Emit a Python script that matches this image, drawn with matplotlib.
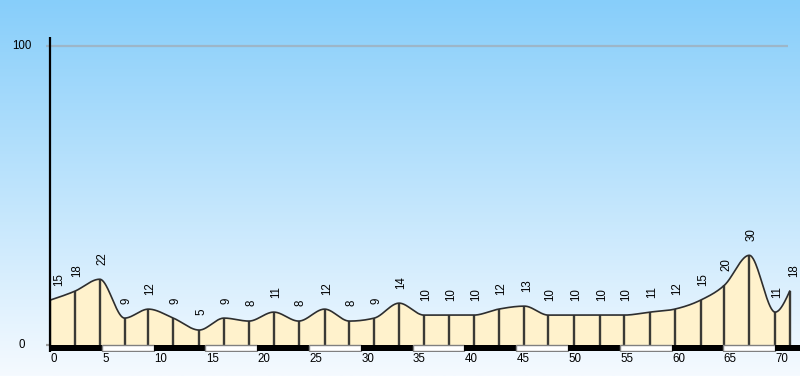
import numpy as np
import matplotlib
matplotlib.use("Agg")
import matplotlib.pyplot as plt
from matplotlib.patches import Rectangle
from matplotlib.colors import LinearSegmentedColormap

plt.rcParams['font.family'] = ['Liberation Sans', 'DejaVu Sans']

# ---- data ----
distance = [0.0, 2.4, 4.8, 7.2, 9.5, 11.9, 14.4, 16.8, 19.2, 21.6, 24.0, 26.5,
            28.9, 31.3, 33.7, 36.1, 38.5, 40.9, 43.3, 45.8, 48.1, 50.6, 53.1,
            55.4, 57.9, 60.3, 62.8, 65.1, 67.5, 70.0, 71.4]
values = [15, 18, 22, 9, 12, 9, 5, 9, 8, 11, 8, 12, 8, 9, 14, 10, 10, 10, 12,
          13, 10, 10, 10, 10, 11, 12, 15, 20, 30, 11, 18]
x_ticks = [0, 5, 10, 15, 20, 25, 30, 35, 40, 45, 50, 55, 60, 65, 70]
y_ticks = [0, 100]


def monotone_curve(x, y, n=40):
    """Monotone cubic (d3 curveMonotoneX style) rendering of the profile."""
    x = np.asarray(x, float)
    y = np.asarray(y, float)
    h = np.diff(x)
    s = np.diff(y) / h
    m = len(x)
    t = np.zeros(m)
    for i in range(1, m - 1):
        h0, h1 = h[i - 1], h[i]
        s0, s1 = s[i - 1], s[i]
        p = (s0 * h1 + s1 * h0) / (h0 + h1)
        t[i] = (np.sign(s0) + np.sign(s1)) * min(abs(s0), abs(s1), 0.5 * abs(p))
    t[0] = (3 * s[0] - t[1]) / 2
    t[-1] = (3 * s[-1] - t[-2]) / 2
    xs, ys = [], []
    for i in range(m - 1):
        u = np.linspace(0, 1, n, endpoint=(i == m - 2))
        hh = h[i]
        h00 = 2 * u**3 - 3 * u**2 + 1
        h10 = u**3 - 2 * u**2 + u
        h01 = -2 * u**3 + 3 * u**2
        h11 = u**3 - u**2
        xs.append(x[i] + u * hh)
        ys.append(h00 * y[i] + h10 * hh * t[i] + h01 * y[i + 1] + h11 * hh * t[i + 1])
    return np.concatenate(xs), np.concatenate(ys)


W, H = 800, 376
fig = plt.figure(figsize=(W / 100, H / 100), dpi=100)

# gradient background
bg = fig.add_axes([0, 0, 1, 1], zorder=0)
cmap = LinearSegmentedColormap.from_list('bg', ['#87CEFA', '#F5FAFF'])
grad = np.linspace(0, 1, 256).reshape(-1, 1)
bg.imshow(grad, aspect='auto', cmap=cmap, extent=[0, 1, 0, 1], origin='upper')
bg.set_axis_off()

px_per_x = 10.36
px_per_y = 2.99
left_px = 50
y0_px = H - 345  # pixel (from bottom) of value 0
ymin = -7 / px_per_y
ymax = (H - 37 - y0_px) / px_per_y
xmax = (W - left_px) / px_per_x
bottom_px = y0_px + ymin * px_per_y
ax = fig.add_axes([left_px / W, bottom_px / H, (W - left_px) / W,
                   (ymax - ymin) * px_per_y / H], zorder=1)
ax.set_xlim(0, xmax)
ax.set_ylim(ymin, ymax)
ax.patch.set_alpha(0)
for sp in ax.spines.values():
    sp.set_visible(False)
ax.set_xticks([])
ax.set_yticks([])

# grid line at 100 and small tick at 0
ax.hlines(100, -0.4, 71.2, color='#9DB6C8', lw=1.6, clip_on=False, zorder=1)
ax.hlines(0, -0.4, 0, color='#A0A0A0', lw=1.6, clip_on=False, zorder=1)

# profile
cx, cy = monotone_curve(distance, values)
ax.fill_between(cx, 0, cy, color='#FFF2CC', lw=0, zorder=2)
ax.plot(cx, cy, color='#2E2E2E', lw=1.2, zorder=4)
ax.vlines(distance, 0, values, color='#3A3A36', lw=1.7, zorder=3)

# value labels
for i, (xv, yv) in enumerate(zip(distance, values)):
    dx = 1.6
    if i == 0:
        dx = 6.5
    elif i == len(values) - 1:
        dx = 3.0
    ax.annotate(str(yv), (xv, yv), xytext=(dx, 10.5), textcoords='offset points',
                rotation=90, ha='center', va='bottom', fontsize=8.3,
                color='black', zorder=5)

# y axis line
ax.vlines(0, ymin, ymax, color='black', lw=1.6, zorder=6, clip_on=False)

# alternating distance bar
for k in range(15):
    x0 = x_ticks[0] + 5 * k
    if k % 2 == 0:
        r = Rectangle((x0, -2.0), 5, 2.0, facecolor='black', edgecolor='none', zorder=5)
    else:
        r = Rectangle((x0, -1.85), 5, 1.7, facecolor='white', edgecolor='#808080',
                      lw=1.0, zorder=5)
    ax.add_patch(r)

# x tick labels
for t in x_ticks:
    ax.annotate(str(t), (t, ymin), xytext=(0.2, -0.5), textcoords='offset points',
                ha='left', va='top', fontsize=8.3, color='black',
                annotation_clip=False)

# y tick labels
for t in y_ticks:
    ax.text(-28 / px_per_x, t, str(t), ha='center', va='center', fontsize=8.3,
            color='black', clip_on=False)

fig.savefig('out.png', dpi=100)
